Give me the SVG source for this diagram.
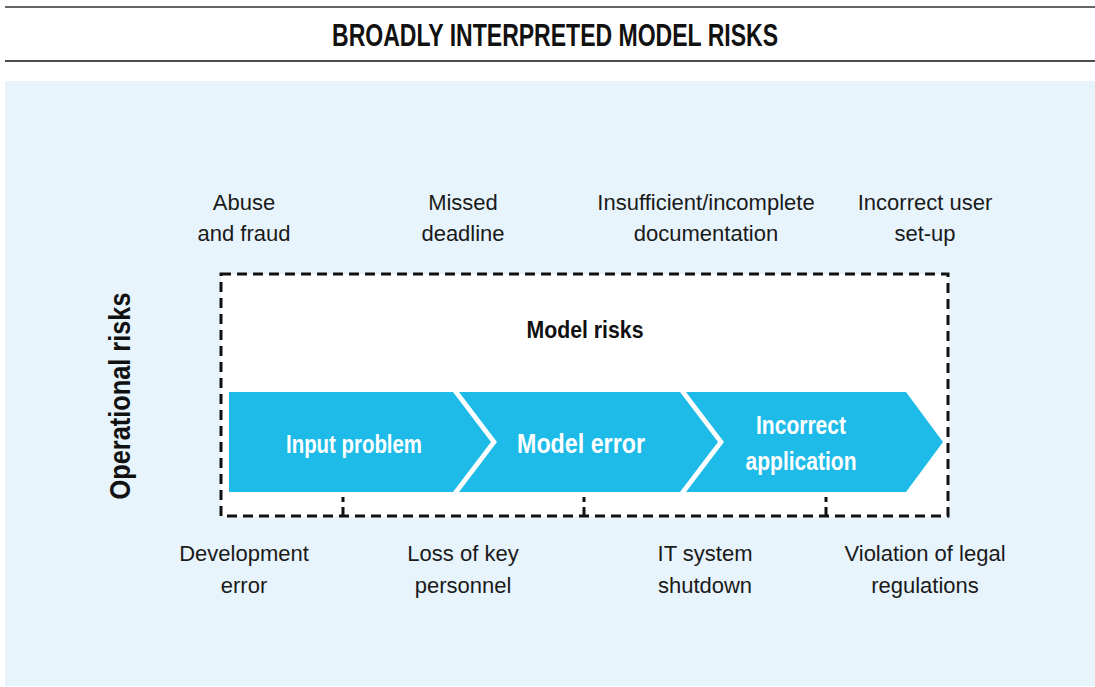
<svg xmlns="http://www.w3.org/2000/svg" width="1095" height="687" viewBox="0 0 1095 687">
<style>
.lbl{font-family:"Liberation Sans",Arial,sans-serif;font-size:22px;fill:#1a1a1a;text-anchor:middle}
.wt{font-family:"Liberation Sans",Arial,sans-serif;font-weight:bold;fill:#ffffff;text-anchor:middle}
.chev{fill:#1EBBE8}
.dash{fill:none;stroke:#111;stroke-width:3;stroke-dasharray:10 6}
.tick{stroke:#111;stroke-width:3}
</style>
<rect x="0" y="0" width="1095" height="687" fill="#ffffff"/>
<line x1="5" y1="7" x2="1095" y2="7" stroke="#333" stroke-width="1.5"/>
<line x1="5" y1="61" x2="1095" y2="61" stroke="#111" stroke-width="1.5"/>
<text x="555" y="46" font-family="'Liberation Sans',Arial,sans-serif" font-weight="bold" font-size="32" text-anchor="middle" textLength="446" lengthAdjust="spacingAndGlyphs" fill="#111">BROADLY INTERPRETED MODEL RISKS</text>
<rect x="5" y="81" width="1090" height="605" fill="#E8F4FB"/>
<g id="model-risks-box">
<rect x="221" y="274" width="727" height="242" fill="#ffffff"/>
<rect x="221" y="274" width="727" height="242" class="dash"/>
<text x="585" y="338" font-family="'Liberation Sans',Arial,sans-serif" font-weight="bold" font-size="23" text-anchor="middle" textLength="117" lengthAdjust="spacingAndGlyphs" fill="#111">Model risks</text>
</g>
<g id="operational-risks">
<text transform="translate(130,396) rotate(-90)" x="0" y="0" font-family="'Liberation Sans',Arial,sans-serif" font-weight="bold" font-size="29" text-anchor="middle" textLength="207" lengthAdjust="spacingAndGlyphs" fill="#111">Operational risks</text>
</g>
<g id="connectors">
<line x1="343" y1="497" x2="343" y2="502" class="tick"/>
<line x1="343" y1="507" x2="343" y2="517" class="tick"/>
<line x1="584" y1="497" x2="584" y2="502" class="tick"/>
<line x1="584" y1="507" x2="584" y2="517" class="tick"/>
<line x1="826" y1="497" x2="826" y2="502" class="tick"/>
<line x1="826" y1="507" x2="826" y2="517" class="tick"/>
</g>
<g id="input-problem">
<polygon class="chev" points="229,392 453,392 491,442 453,492 229,492"/>
<text class="wt" x="354" y="453" font-size="26" textLength="136" lengthAdjust="spacingAndGlyphs">Input problem</text>
</g>
<g id="model-error">
<polygon class="chev" points="459,392 680,392 718,442 680,492 459,492 497,442"/>
<text class="wt" x="581" y="453" font-size="27" textLength="128" lengthAdjust="spacingAndGlyphs">Model error</text>
</g>
<g id="incorrect-application">
<polygon class="chev" points="686,392 906,392 943,442 906,492 686,492 724,442"/>
<text class="wt" x="801" y="434" font-size="26" textLength="90" lengthAdjust="spacingAndGlyphs">Incorrect</text>
<text class="wt" x="801" y="470" font-size="26" textLength="111" lengthAdjust="spacingAndGlyphs">application</text>
</g>
<g id="abuse-fraud"><text class="lbl" x="244" y="210">Abuse</text><text class="lbl" x="244" y="241">and fraud</text></g>
<g id="missed-deadline"><text class="lbl" x="463" y="210">Missed</text><text class="lbl" x="463" y="241">deadline</text></g>
<g id="insufficient-doc"><text class="lbl" x="706" y="210">Insufficient/incomplete</text><text class="lbl" x="706" y="241">documentation</text></g>
<g id="incorrect-user"><text class="lbl" x="925" y="210">Incorrect user</text><text class="lbl" x="925" y="241">set-up</text></g>
<g id="development-error"><text class="lbl" x="244" y="561">Development</text><text class="lbl" x="244" y="593">error</text></g>
<g id="loss-personnel"><text class="lbl" x="463" y="561">Loss of key</text><text class="lbl" x="463" y="593">personnel</text></g>
<g id="it-shutdown"><text class="lbl" x="705" y="561">IT system</text><text class="lbl" x="705" y="593">shutdown</text></g>
<g id="violation"><text class="lbl" x="925" y="561">Violation of legal</text><text class="lbl" x="925" y="593">regulations</text></g>
</svg>
